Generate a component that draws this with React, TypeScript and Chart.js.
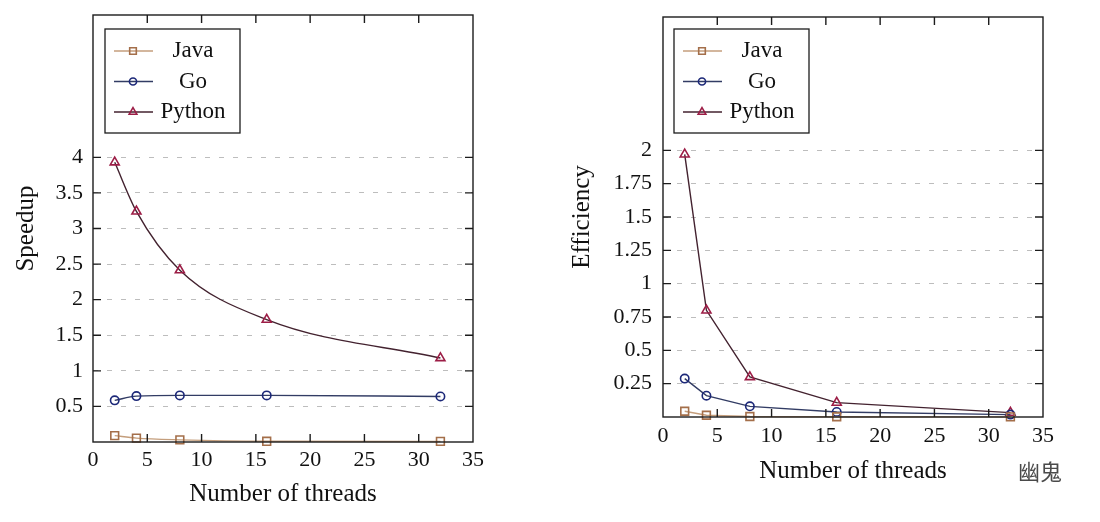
import React, { useEffect, useRef } from 'react';
import { Chart, registerables } from 'chart.js';
import { drawPoint } from 'chart.js/helpers';

Chart.register(...registerables);

const FONT = '"Liberation Serif", "Times New Roman", serif';

// ---- data ----
const threads = [2, 4, 8, 16, 32];
const seriesNames = ['Java', 'Go', 'Python'];

const speedupJava = [0.09, 0.055, 0.03, 0.01, 0.008];
const speedupGo = [0.585, 0.645, 0.655, 0.655, 0.64];
const speedupPython = [3.93, 3.24, 2.415, 1.72, 1.18];

const efficiencyJava = [0.043, 0.013, 0.004, 0.002, 0.001];
const efficiencyGo = [0.288, 0.16, 0.08, 0.038, 0.018];
const efficiencyPython = [1.97, 0.8, 0.3, 0.108, 0.033];

const xTickValues = [0, 5, 10, 15, 20, 25, 30, 35];
const speedupTickValues = [0.5, 1, 1.5, 2, 2.5, 3, 3.5, 4];
const efficiencyTickValues = [0.25, 0.5, 0.75, 1, 1.25, 1.5, 1.75, 2];

// ---- styles ----
const seriesStyles = [
  { line: '#c49e7c', point: '#a46f4a', pointStyle: 'rect', radius: 5.5 },
  { line: '#323c64', point: '#1c2878', pointStyle: 'circle', radius: 4.2 },
  { line: '#43222f', point: '#9c1d46', pointStyle: 'triangle', radius: 5.2 },
];

const framePlugin = {
  id: 'frame',
  afterDatasetsDraw(chart: any, _args: any, opts: any) {
    const { ctx, chartArea: a, scales } = chart;
    const xs = scales.x;
    const ys = scales.y;
    ctx.save();
    ctx.setLineDash([]);
    ctx.strokeStyle = '#1c1c1c';
    ctx.lineWidth = 1.4;
    ctx.strokeRect(a.left, a.top, a.right - a.left, a.bottom - a.top);
    const tl = 8;
    ctx.beginPath();
    for (const t of xs.ticks) {
      const px = xs.getPixelForValue(t.value);
      if (px <= a.left + 1 || px >= a.right - 1) continue;
      ctx.moveTo(px, a.bottom);
      ctx.lineTo(px, a.bottom - tl);
      ctx.moveTo(px, a.top);
      ctx.lineTo(px, a.top + tl);
    }
    for (const t of ys.ticks) {
      const py = ys.getPixelForValue(t.value);
      ctx.moveTo(a.left, py);
      ctx.lineTo(a.left + tl, py);
      ctx.moveTo(a.right, py);
      ctx.lineTo(a.right - tl, py);
    }
    ctx.stroke();

    // legend box
    const bx = a.left + opts.legendX;
    const by = a.top + opts.legendY;
    const bw = 135;
    const bh = 104;
    ctx.fillStyle = '#fff';
    ctx.fillRect(bx, by, bw, bh);
    ctx.lineWidth = 1.3;
    ctx.strokeStyle = '#1c1c1c';
    ctx.strokeRect(bx, by, bw, bh);
    chart.data.datasets.forEach((ds: any, i: number) => {
      const y = by + 22 + i * 30.5;
      ctx.strokeStyle = ds.borderColor;
      ctx.lineWidth = ds.borderWidth;
      ctx.beginPath();
      ctx.moveTo(bx + 9, y);
      ctx.lineTo(bx + 48, y);
      ctx.stroke();
      ctx.strokeStyle = ds.pointBorderColor;
      ctx.fillStyle = 'rgba(255,255,255,0)';
      ctx.lineWidth = ds.pointBorderWidth;
      drawPoint(ctx, { pointStyle: ds.pointStyle, radius: ds.pointRadius * 0.85, borderWidth: ds.pointBorderWidth, rotation: 0 } as any, bx + 28, y);
      ctx.fillStyle = '#111';
      ctx.font = `23px ${FONT}`;
      ctx.textAlign = 'center';
      ctx.textBaseline = 'middle';
      ctx.fillText(ds.label, bx + 88, y);
    });

    if (opts.watermark) {
      ctx.fillStyle = '#4a4a4a';
      ctx.font = '22px "Noto Sans CJK SC"';
      ctx.textAlign = 'center';
      ctx.textBaseline = 'middle';
      ctx.fillText(opts.watermark, 490, 472);
    }
    ctx.restore();
  },
};

function zeroPadding(s: any) {
  s.paddingTop = 0;
  s.paddingBottom = 0;
  s.paddingLeft = 0;
  s.paddingRight = 0;
}

function buildConfig(p: any) {
  const datasets = p.values.map((vals: number[], i: number) => {
    const st = seriesStyles[i];
    return {
      label: seriesNames[i],
      data: threads.map((t, j) => ({ x: t, y: vals[j] })),
      borderColor: st.line,
      borderWidth: 1.4,
      pointStyle: st.pointStyle,
      pointRadius: st.radius,
      pointBorderColor: st.point,
      pointBackgroundColor: 'rgba(255,255,255,0)',
      pointBorderWidth: 1.6,
      cubicInterpolationMode: p.monotone ? 'monotone' : 'default',
      tension: 0,
      clip: false,
    };
  });
  return {
    type: 'line',
    data: { datasets },
    plugins: [framePlugin],
    options: {
      responsive: false,
      animation: false,
      devicePixelRatio: 1,
      layout: { padding: { left: 0, top: p.padTop, right: p.padRight, bottom: 0 } },
      plugins: {
        legend: { display: false },
        tooltip: { enabled: false },
        frame: { legendX: p.legendX, legendY: p.legendY, watermark: p.watermark },
      },
      scales: {
        x: {
          type: 'linear',
          min: 0,
          max: 35,
          afterBuildTicks: (s: any) => {
            s.ticks = xTickValues.map((v) => ({ value: v }));
          },
          afterFit: (s: any) => {
            s.height = p.xHeight;
            zeroPadding(s);
          },
          grid: { display: false, drawTicks: false },
          border: { display: false },
          ticks: {
            padding: p.xTickPad,
            autoSkip: false,
            maxRotation: 0,
            color: '#111',
            font: { family: FONT, size: 22 },
            callback: (v: any) => String(v),
          },
          title: {
            display: true,
            text: 'Number of threads',
            color: '#111',
            font: { family: FONT, size: 25 },
            padding: { top: 0, bottom: p.xTitlePad },
          },
        },
        y: {
          type: 'linear',
          min: 0,
          max: p.yMax,
          afterBuildTicks: (s: any) => {
            s.ticks = p.yTicks.map((v: number) => ({ value: v }));
          },
          afterFit: (s: any) => {
            s.width = p.yWidth;
            zeroPadding(s);
          },
          grid: { display: true, drawTicks: false, color: '#bdbdbd', lineWidth: 1 },
          border: { display: false, dash: [5, 9] },
          ticks: {
            padding: p.yTickPad,
            autoSkip: false,
            color: '#111',
            font: { family: FONT, size: 22 },
            callback: (v: any) => String(v),
          },
          title: {
            display: true,
            text: p.yTitle,
            color: '#111',
            font: { family: FONT, size: 25 },
            padding: { top: p.yTitlePad, bottom: 0 },
          },
        },
      },
    },
  };
}

function LineChart({ cfg, left }: { cfg: any; left: number }) {
  const ref = useRef<HTMLCanvasElement>(null);
  useEffect(() => {
    const chart = new Chart(ref.current as HTMLCanvasElement, cfg);
    return () => chart.destroy();
  }, []);
  return (
    <canvas
      ref={ref}
      width={550}
      height={522}
      style={{ position: 'absolute', left, top: 0, width: 550, height: 522, display: 'block' }}
    />
  );
}

const speedupConfig = buildConfig({
  values: [speedupJava, speedupGo, speedupPython],
  yMax: 6,
  yTicks: speedupTickValues,
  yTitle: 'Speedup',
  padTop: 15,
  padRight: 77,
  yWidth: 93,
  xHeight: 80,
  xTickPad: 5,
  yTickPad: 10,
  xTitlePad: 13,
  yTitlePad: 11,
  legendX: 12,
  legendY: 14,
  monotone: true,
});

const efficiencyConfig = buildConfig({
  values: [efficiencyJava, efficiencyGo, efficiencyPython],
  yMax: 3,
  yTicks: efficiencyTickValues,
  yTitle: 'Efficiency',
  padTop: 17,
  padRight: 57,
  yWidth: 113,
  xHeight: 105,
  xTickPad: 6,
  yTickPad: 11,
  xTitlePad: 36,
  yTitlePad: 17,
  legendX: 11,
  legendY: 12,
  monotone: false,
  watermark: '幽鬼',
});

export default function App() {
  return (
    <div style={{ position: 'fixed', left: 0, top: 0, width: 1100, height: 522, background: '#fff' }}>
      <LineChart cfg={speedupConfig} left={0} />
      <LineChart cfg={efficiencyConfig} left={550} />
    </div>
  );
}
